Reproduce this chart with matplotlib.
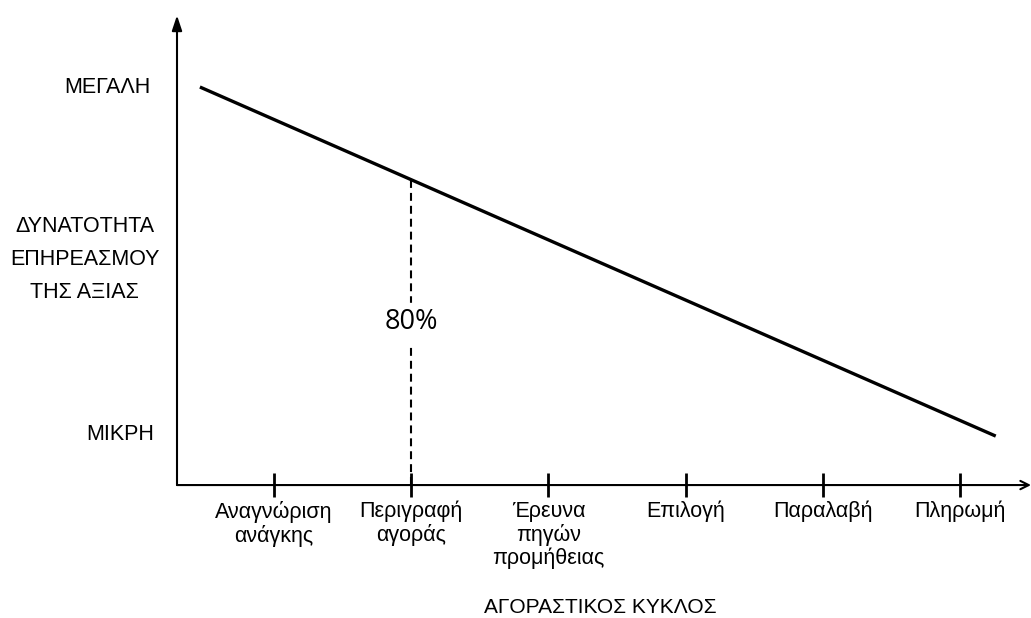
import matplotlib.pyplot as plt

plt.rcParams['font.family'] = ['Liberation Sans', 'DejaVu Sans']

# Buying cycle stages
stages = ['Αναγνώριση\nανάγκης', 'Περιγραφή\nαγοράς', 'Έρευνα\nπηγών\nπρομήθειας',
          'Επιλογή', 'Παραλαβή', 'Πληρωμή']
stage_pos = [1, 2, 3, 4, 5, 6]

# Influence line (start, end) - falls from "large" to "small"
line_x = [0.46, 6.26]
line_y = [1.0, 0.123]

# Marked stage
marked_stage = 2
marked_label = '80%'

y_levels = [1.0, 0.123]
y_level_labels = ['ΜΕΓΑΛΗ', 'ΜΙΚΡΗ']
y_title = 'ΔΥΝΑΤΟΤΗΤΑ\nΕΠΗΡΕΑΣΜΟΥ\nΤΗΣ ΑΞΙΑΣ'
x_title = 'ΑΓΟΡΑΣΤΙΚΟΣ ΚΥΚΛΟΣ'

fig = plt.figure(figsize=(10.31, 6.18), dpi=100)
ax = fig.add_axes([0, 0, 1, 1])
ax.set_xlim(-0.997, 6.517)
ax.set_ylim(-0.334, 1.2186)
ax.axis('off')

# axes with arrows
ax.annotate('', xy=(0.293, 1.18), xytext=(0.293, 0),
            arrowprops=dict(arrowstyle='-|>,head_length=0.9,head_width=0.3', lw=1.5, color='black',
                            shrinkA=0, shrinkB=0))
ax.annotate('', xy=(6.517, 0), xytext=(0.293, 0),
            arrowprops=dict(arrowstyle='->,head_length=0.6,head_width=0.3', lw=1.5, color='black',
                            shrinkA=0, shrinkB=0))

# ticks
ax.vlines(stage_pos, -0.03, 0.03, color='black', lw=2)
for xp, lab in zip(stage_pos, stages):
    ax.text(xp, -0.039, lab, ha='center', va='top', fontsize=15.5, linespacing=1.13)

# main line
ax.plot(line_x, line_y, color='black', lw=2.4, solid_capstyle='butt')

# dashed guide at marked stage
slope = (line_y[1] - line_y[0]) / (line_x[1] - line_x[0])
y_at = line_y[0] + slope * (marked_stage - line_x[0])
ax.plot([marked_stage, marked_stage], [0, y_at], color='black', lw=1.5, ls=(0, (3.8, 2.4)))
ax.text(marked_stage, 0.409, marked_label, ha='center', va='center', fontsize=19.5,
        family='Open Sans', backgroundcolor='white')

# y labels
ax.text(-0.217, y_levels[0], y_level_labels[0], ha='center', va='center', fontsize=15.5)
ax.text(-0.122, y_levels[1] + 0.003, y_level_labels[1], ha='center', va='center', fontsize=15.5)
ax.text(-0.378, 0.566, y_title, ha='center', va='center', fontsize=15.5, linespacing=1.76)

ax.text(3.38, -0.308, x_title, ha='center', va='center', fontsize=15)

fig.savefig('out.png', dpi=100)
